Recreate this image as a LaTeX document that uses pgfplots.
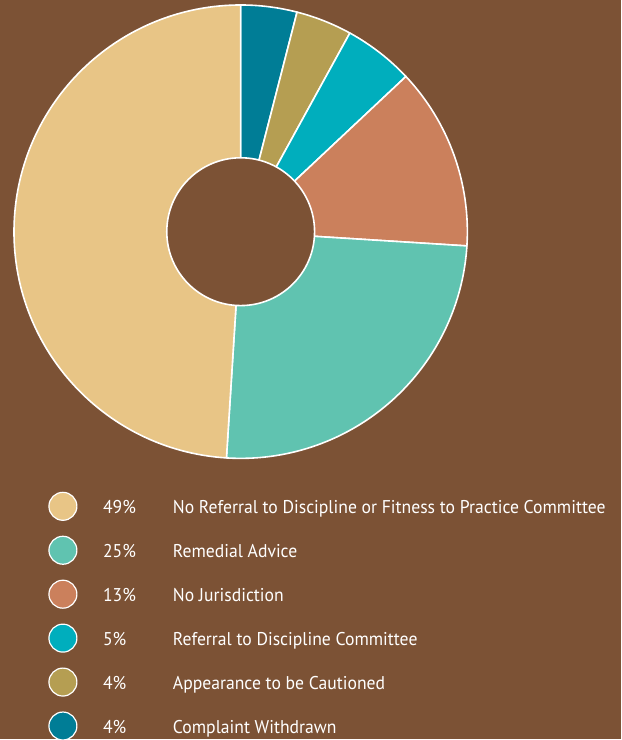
\documentclass[border=0pt]{standalone}
\usepackage{pgfplots}
\usepackage{pgfplotstable}
\usepackage{fontspec}
\pgfplotsset{compat=1.18}
\setmainfont{PT Sans}[FakeStretch=0.955]

\definecolor{bg}{HTML}{7C5235}
\definecolor{c0}{HTML}{007D96}
\definecolor{c1}{HTML}{B59E52}
\definecolor{c2}{HTML}{00AEBD}
\definecolor{c3}{HTML}{CB805C}
\definecolor{c4}{HTML}{60C3B0}
\definecolor{c5}{HTML}{E8C586}

% slices clockwise from 12 o'clock
\pgfplotstableread[col sep=comma]{
pct,name
4,Complaint Withdrawn
4,Appearance to be Cautioned
5,Referral to Discipline Committee
13,No Jurisdiction
25,Remedial Advice
49,No Referral to Discipline or Fitness to Practice Committee
}\slices

\begin{document}
\xdef\cum{0}%
\foreach \i in {0,...,5}{%
  \pgfplotstablegetelem{\i}{pct}\of\slices
  \let\p\pgfplotsretval
  \expandafter\xdef\csname pct\i\endcsname{\p}%
  \pgfplotstablegetelem{\i}{name}\of\slices
  \expandafter\xdef\csname nm\i\endcsname{\pgfplotsretval}%
  \pgfmathsetmacro\a{90-3.6*\cum}%
  \pgfmathsetmacro\c{\cum+\p}%
  \pgfmathsetmacro\b{90-3.6*\c}%
  \expandafter\xdef\csname sa\i\endcsname{\a}%
  \expandafter\xdef\csname sb\i\endcsname{\b}%
  \pgfmathsetmacro\y{-507-44*(5-\i)}%
  \expandafter\xdef\csname ly\i\endcsname{\y}%
  \pgfmathsetmacro\yb{\y-7}%
  \expandafter\xdef\csname lb\i\endcsname{\yb}%
  \xdef\cum{\c}%
}%
\begin{tikzpicture}
\begin{axis}[
    width=622pt, height=740pt,
    scale only axis,
    xmin=0, xmax=622, ymin=-740, ymax=0,
    axis line style={draw=none},
    ticks=none,
    axis background/.style={fill=bg},
    clip=false,
]
% donut
\pgfplotsinvokeforeach{0,...,5}{
  \filldraw[fill=c#1, draw=white, line width=1.6pt, line join=round]
    (axis cs:241,-232)
    -- (axis cs:{241+227*cos(\csname sa#1\endcsname)},{-232+227*sin(\csname sa#1\endcsname)})
    arc[start angle=\csname sa#1\endcsname, end angle=\csname sb#1\endcsname, radius=227] -- cycle;
}
\filldraw[fill=bg, draw=white, line width=1.6pt] (axis cs:241,-232) circle[radius=74];

% legend
\pgfplotsinvokeforeach{0,...,5}{
  \addplot[only marks, mark=*, mark size=14pt,
    mark options={fill=c#1, draw=white, line width=1.2pt}]
    coordinates {(63,\csname ly#1\endcsname)};
  \node[anchor=base west, inner sep=0pt, text=white, font=\fontsize{18.5}{20}\selectfont]
    at (axis cs:103,\csname lb#1\endcsname) {\csname pct#1\endcsname\%};
  \node[anchor=base west, inner sep=0pt, text=white, font=\fontsize{18.5}{20}\selectfont]
    at (axis cs:173,\csname lb#1\endcsname) {\csname nm#1\endcsname};
}
\end{axis}
\end{tikzpicture}
\end{document}
